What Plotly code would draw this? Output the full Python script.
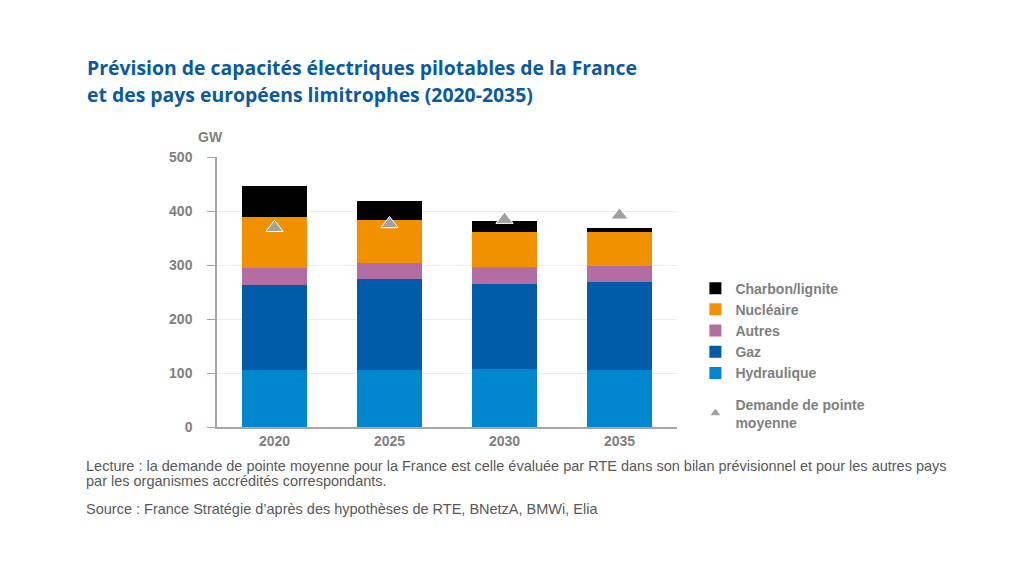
import plotly.graph_objects as go

# Data (GW)
years = ["2020", "2025", "2030", "2035"]
hydraulique = [105, 106, 107, 106]
gaz = [158, 168, 157, 162]
autres = [31, 30, 33, 31]
nucleaire = [95, 80, 65, 62]
charbon = [58, 35, 19, 7]
demande = [369, 376, 384, 392]

y_ticks = [0, 100, 200, 300, 400, 500]

series = [
    ("Hydraulique", hydraulique, "#0087cd"),
    ("Gaz", gaz, "#005ba8"),
    ("Autres", autres, "#b36da2"),
    ("Nucléaire", nucleaire, "#f29100"),
    ("Charbon/lignite", charbon, "#000000"),
]

grey = "#808080"
note_grey = "#595959"

fig = go.Figure()

for i, (name, vals, color) in enumerate(series):
    fig.add_trace(go.Bar(
        x=years, y=vals, name=name,
        marker=dict(color=color, line=dict(width=0)),
        legendgroup="a", legendrank=10 - i,
    ))

fig.add_trace(go.Scatter(
    x=years, y=demande, mode="markers",
    name="Demande de pointe<br>moyenne",
    marker=dict(symbol="triangle-up", size=15, color="#a0a0a0",
                line=dict(color="white", width=1)),
    legendgroup="b", legendrank=20,
))

fig.update_layout(
    width=1024, height=570,
    barmode="stack", bargap=0.43,
    plot_bgcolor="white", paper_bgcolor="white",
    margin=dict(l=209, r=355, t=149, b=151),
    font=dict(family="Liberation Sans", size=13, color=grey),
    showlegend=True,
    legend=dict(
        x=1.04, y=0.572, xanchor="left", yanchor="top",
        traceorder="grouped", tracegroupgap=10,
        font=dict(family="Liberation Sans", size=14, color=grey, weight="bold"),
        itemsizing="constant", itemwidth=30,
    ),
    xaxis=dict(
        showline=True, linecolor="#a6a6a6", linewidth=1.5,
        ticks="", tickfont=dict(size=14, color=grey, weight="bold"),
    ),
    yaxis=dict(
        range=[0, 500], tickvals=y_ticks,
        showline=True, linecolor="#a6a6a6", linewidth=1.5,
        ticks="outside", ticklen=8, tickcolor="#a6a6a6",
        ticklabelstandoff=12,
        showgrid=True, gridcolor="#ececec", gridwidth=1,
        tickfont=dict(size=14, color=grey, weight="bold"),
        zeroline=False,
    ),
)

title_lines = [
    ("Prévision de capacités électriques pilotables de la France", 1.330),
    ("et des pays européens limitrophes (2020-2035)", 1.233),
]
for text, ypos in title_lines:
    fig.add_annotation(
        text=text, xref="paper", yref="paper", x=-0.287, y=ypos,
        xanchor="left", yanchor="middle", showarrow=False,
        font=dict(family="Open Sans", size=19.4, color="#0a5aa0", weight="bold"),
    )

fig.add_annotation(
    text="GW", xref="paper", yref="paper", x=-0.015, y=1.037,
    xanchor="center", yanchor="bottom", showarrow=False,
    font=dict(size=14, color=grey, weight="bold"),
)

note_lines = [
    ("Lecture : la demande de pointe moyenne pour la France est celle évaluée par RTE dans son bilan prévisionnel et pour les autres pays", -0.144),
    ("par les organismes accrédités correspondants.", -0.200),
    ("Source : France Stratégie d’après des hypothèses de RTE, BNetzA, BMWi, Elia", -0.304),
]
for text, ypos in note_lines:
    fig.add_annotation(
        text=text, xref="paper", yref="paper", x=-0.289, y=ypos,
        xanchor="left", yanchor="middle", showarrow=False,
        font=dict(size=14.5, color=note_grey),
    )

fig.write_html("out.html")
